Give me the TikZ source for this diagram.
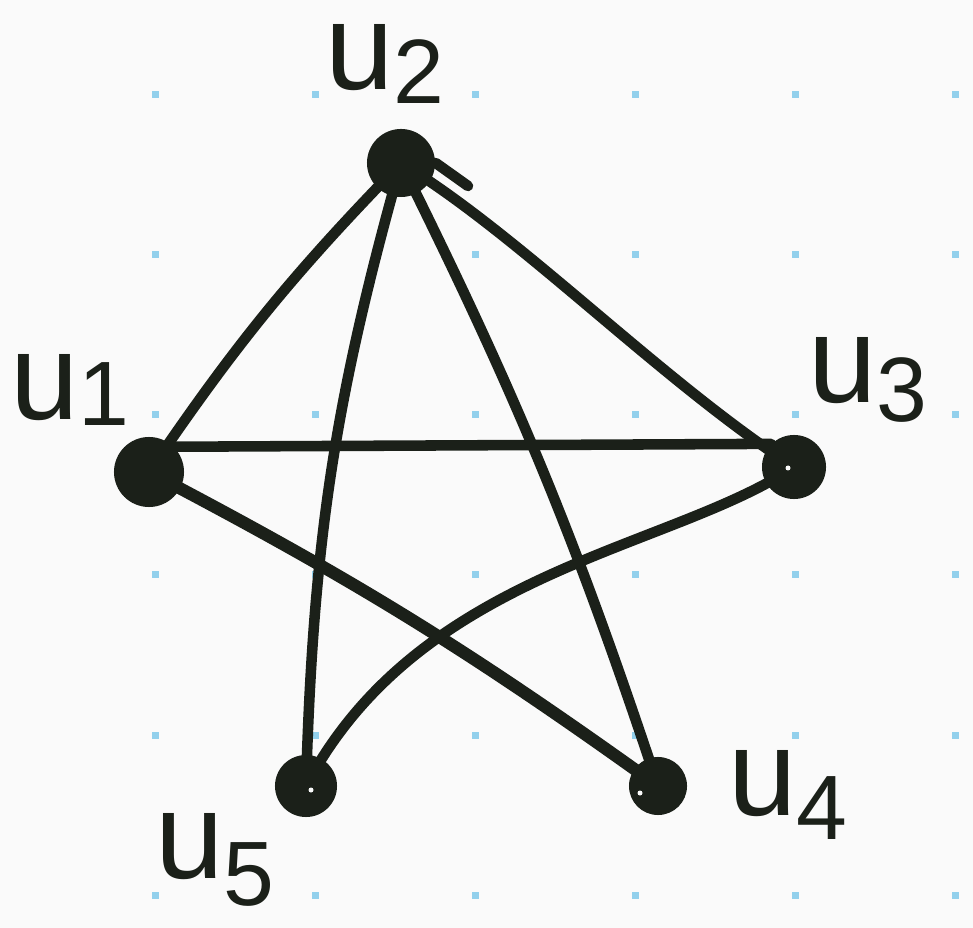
\documentclass[tikz,border=0pt]{standalone}
\usepackage{fontspec}
\setmainfont{Liberation Sans}
\definecolor{ink}{HTML}{1B2019}
\definecolor{gdot}{HTML}{92D0EC}
\definecolor{paper}{HTML}{FAFAFA}
\begin{document}
\begin{tikzpicture}[x=0.01cm,y=-0.01cm,
  vtx/.style={circle,fill=ink,inner sep=0pt},
  hole/.style={circle,fill=paper,inner sep=0pt,minimum size=0.05cm},
  edge/.style={draw=ink,line width=3pt,line cap=round},
  lbl/.style={text=ink,font=\fontsize{35}{38}\selectfont,inner sep=0pt}]
\fill[paper] (0,0) rectangle (973,928);
\useasboundingbox (0,0) rectangle (973,928);
\begin{scope}
\clip (0,0) rectangle (973,928);
\foreach \x in {-5,155,315,475,635,795,955}
  \foreach \y in {95,255,415,575,735,895}
    \fill[gdot] (\x-3.5,\y-3.5) rectangle (\x+3.5,\y+3.5);
\end{scope}
\node[vtx,minimum size=0.68cm] (u2) at (401,163) {};
\node[vtx,minimum size=0.70cm] (u1) at (149,472) {};
\node[vtx,minimum size=0.64cm] (u3) at (794,467) {};
\node[vtx,minimum size=0.58cm] (u4) at (658,786) {};
\node[vtx,minimum size=0.62cm] (u5) at (306,786) {};
\coordinate (t2) at (468,186);
\draw[edge] (u2.center) to[bend right=5] (u1.center);
\draw[edge] (u2.center) to[bend right=7] (u5.center);
\draw[edge] (u2.center) to[bend left=4] (u4.center);
\draw[edge] (u2.center) .. controls (520,235) and (660,380) .. (u3.center);
\draw[edge] (u1.north east) -- (u3.north west);
\draw[edge,line width=3.5pt] (u1.center) to[bend left=4] (u4.center);
\draw[edge] (u3.center) .. controls (670,550) and (420,570) .. (u5.center);
\draw[edge] (u2.east) -- (t2);
\node[hole] (h3) at (788,468) {};
\node[hole] (h5) at (311,790) {};
\node[hole] (h4) at (640,793) {};
\node[lbl] (l2) at (385,64) {u\raisebox{-0.12em}{\fontsize{26}{28}\selectfont 2}};
\node[lbl] (l1) at (70,390) {u\raisebox{-0.05em}{\fontsize{26}{28}\selectfont 1}};
\node[lbl] (l3) at (868,380) {u\raisebox{-0.15em}{\fontsize{26}{28}\selectfont 3}};
\node[lbl] (l4) at (788,795) {u\raisebox{-0.2em}{\fontsize{26}{28}\selectfont 4}};
\node[lbl] (l5) at (215,860) {u\raisebox{-0.22em}{\fontsize{26}{28}\selectfont 5}};
\end{tikzpicture}
\end{document}
